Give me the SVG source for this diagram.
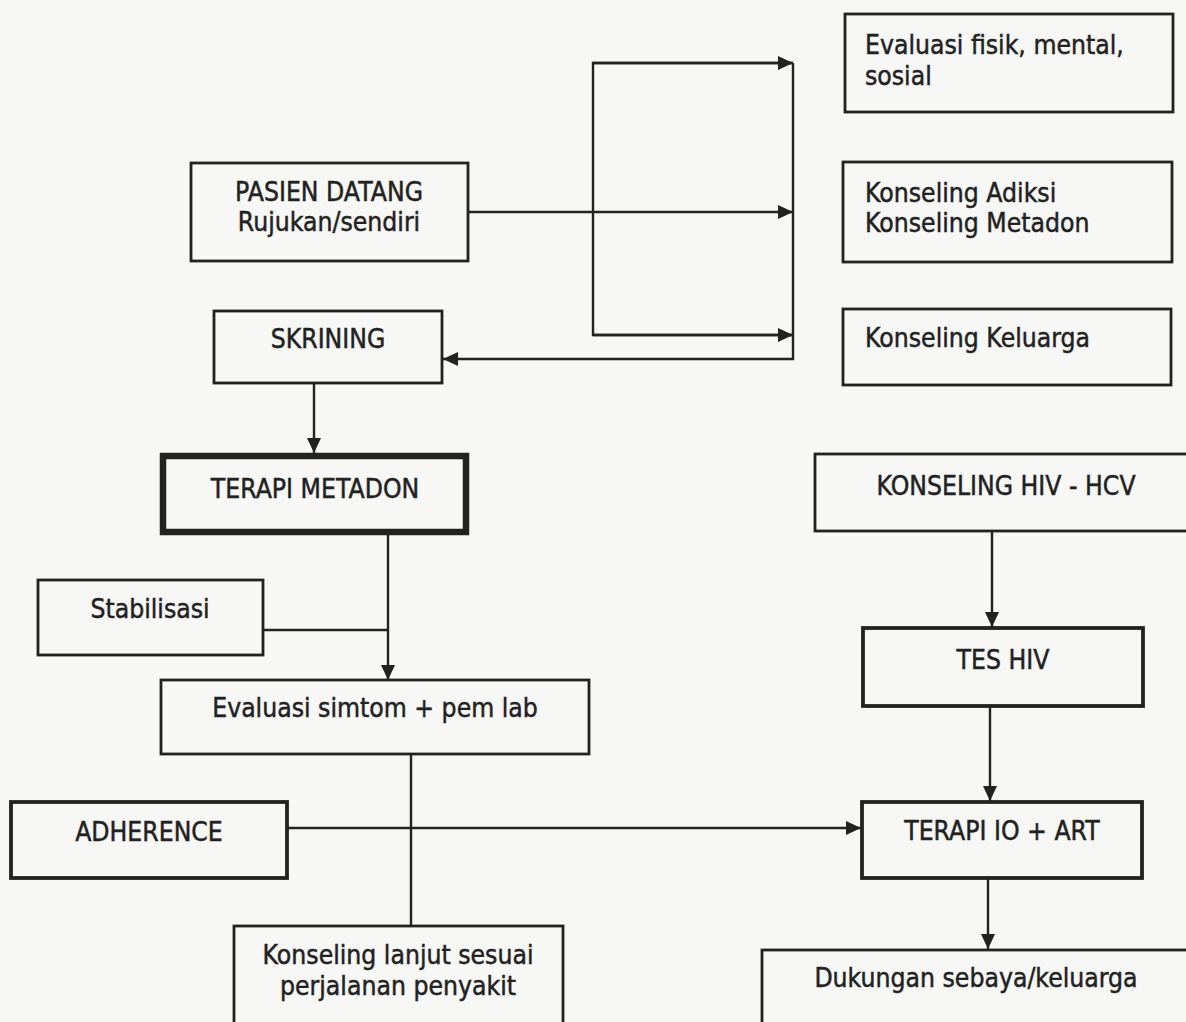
<svg xmlns="http://www.w3.org/2000/svg" width="1186" height="1022" viewBox="0 0 1186 1022">
<defs>
<style>
.box{fill:none;stroke:#222;stroke-width:2.8}
.thick{stroke-width:6.5}
.mid{stroke-width:3.8}
.t{font-family:"DejaVu Sans","Verdana",sans-serif;font-size:26px;fill:#222;stroke:#222;stroke-width:0.5}
.c{text-anchor:middle}
.ln{fill:none;stroke:#222;stroke-width:2.4}
</style>
<marker id="ah" markerUnits="userSpaceOnUse" markerWidth="15" markerHeight="14" refX="15" refY="7" orient="auto">
<path d="M0,0 L15,7 L0,14 z" fill="#222"/>
</marker>
</defs>
<rect width="1186" height="1022" fill="#f7f7f5"/>

<g id="connectors">
<line class="ln" x1="468" y1="212" x2="793" y2="212" marker-end="url(#ah)"/>
<polyline class="ln" points="793,63 593,63 593,335 793,335"/>
<line class="ln" x1="593" y1="63" x2="793" y2="63" marker-end="url(#ah)"/>
<line class="ln" x1="593" y1="335" x2="793" y2="335" marker-end="url(#ah)"/>
<polyline class="ln" points="793,63 793,359 443,359" marker-end="url(#ah)"/>
<line class="ln" x1="314" y1="383" x2="314" y2="453" marker-end="url(#ah)"/>
<line class="ln" x1="388" y1="535" x2="388" y2="680" marker-end="url(#ah)"/>
<line class="ln" x1="263" y1="630" x2="388" y2="630"/>
<line class="ln" x1="411" y1="754" x2="411" y2="926"/>
<line class="ln" x1="287" y1="828" x2="861" y2="828" marker-end="url(#ah)"/>
<line class="ln" x1="992" y1="531" x2="992" y2="627" marker-end="url(#ah)"/>
<line class="ln" x1="990" y1="707" x2="990" y2="801" marker-end="url(#ah)"/>
<line class="ln" x1="988" y1="878" x2="988" y2="949" marker-end="url(#ah)"/>
</g>

<g id="eval-fisik">
<rect class="box" x="845" y="14" width="328" height="98"/>
<text class="t" transform="matrix(0.91 0 0 1 865 54)">Evaluasi fisik, mental,</text>
<text class="t" transform="matrix(0.91 0 0 1 865 85)">sosial</text>
</g>
<g id="konseling-adiksi">
<rect class="box" x="843" y="162" width="329" height="100"/>
<text class="t" transform="matrix(0.91 0 0 1 865 202)">Konseling Adiksi</text>
<text class="t" transform="matrix(0.91 0 0 1 865 232)">Konseling Metadon</text>
</g>
<g id="konseling-keluarga">
<rect class="box" x="843" y="309" width="328" height="76"/>
<text class="t" transform="matrix(0.91 0 0 1 865 347)">Konseling Keluarga</text>
</g>
<g id="pasien-datang">
<rect class="box" x="191" y="163" width="277" height="98"/>
<text class="t c" transform="matrix(0.91 0 0 1 329 201)">PASIEN DATANG</text>
<text class="t c" transform="matrix(0.91 0 0 1 329 231)">Rujukan/sendiri</text>
</g>
<g id="skrining">
<rect class="box" x="214" y="311" width="228" height="72"/>
<text class="t c" transform="matrix(0.91 0 0 1 328 348)">SKRINING</text>
</g>
<g id="terapi-metadon">
<rect class="box thick" x="163" y="456" width="303" height="76"/>
<text class="t c" transform="matrix(0.91 0 0 1 315 498)">TERAPI METADON</text>
</g>
<g id="konseling-hiv-hcv">
<rect class="box" x="815" y="454" width="390" height="77"/>
<text class="t c" transform="matrix(0.91 0 0 1 1006 495)">KONSELING HIV - HCV</text>
</g>
<g id="stabilisasi">
<rect class="box" x="38" y="580" width="225" height="75"/>
<text class="t c" transform="matrix(0.91 0 0 1 150 618)">Stabilisasi</text>
</g>
<g id="evaluasi-simtom">
<rect class="box" x="161" y="680" width="428" height="74"/>
<text class="t c" transform="matrix(0.91 0 0 1 375 717)">Evaluasi simtom + pem lab</text>
</g>
<g id="tes-hiv">
<rect class="box mid" x="863" y="628" width="280" height="78"/>
<text class="t c" transform="matrix(0.91 0 0 1 1003 669)">TES HIV</text>
</g>
<g id="adherence">
<rect class="box mid" x="11" y="802" width="276" height="76"/>
<text class="t c" transform="matrix(0.91 0 0 1 149 841)">ADHERENCE</text>
</g>
<g id="terapi-io-art">
<rect class="box mid" x="862" y="802" width="280" height="76"/>
<text class="t c" transform="matrix(0.91 0 0 1 1002 840)">TERAPI IO + ART</text>
</g>
<g id="konseling-lanjut">
<rect class="box" x="234" y="926" width="329" height="110"/>
<text class="t c" transform="matrix(0.91 0 0 1 398 964)">Konseling lanjut sesuai</text>
<text class="t c" transform="matrix(0.91 0 0 1 398 995)">perjalanan penyakit</text>
</g>
<g id="dukungan">
<rect class="box" x="762" y="950" width="440" height="100"/>
<text class="t c" transform="matrix(0.91 0 0 1 976 987)">Dukungan sebaya/keluarga</text>
</g>
</svg>
